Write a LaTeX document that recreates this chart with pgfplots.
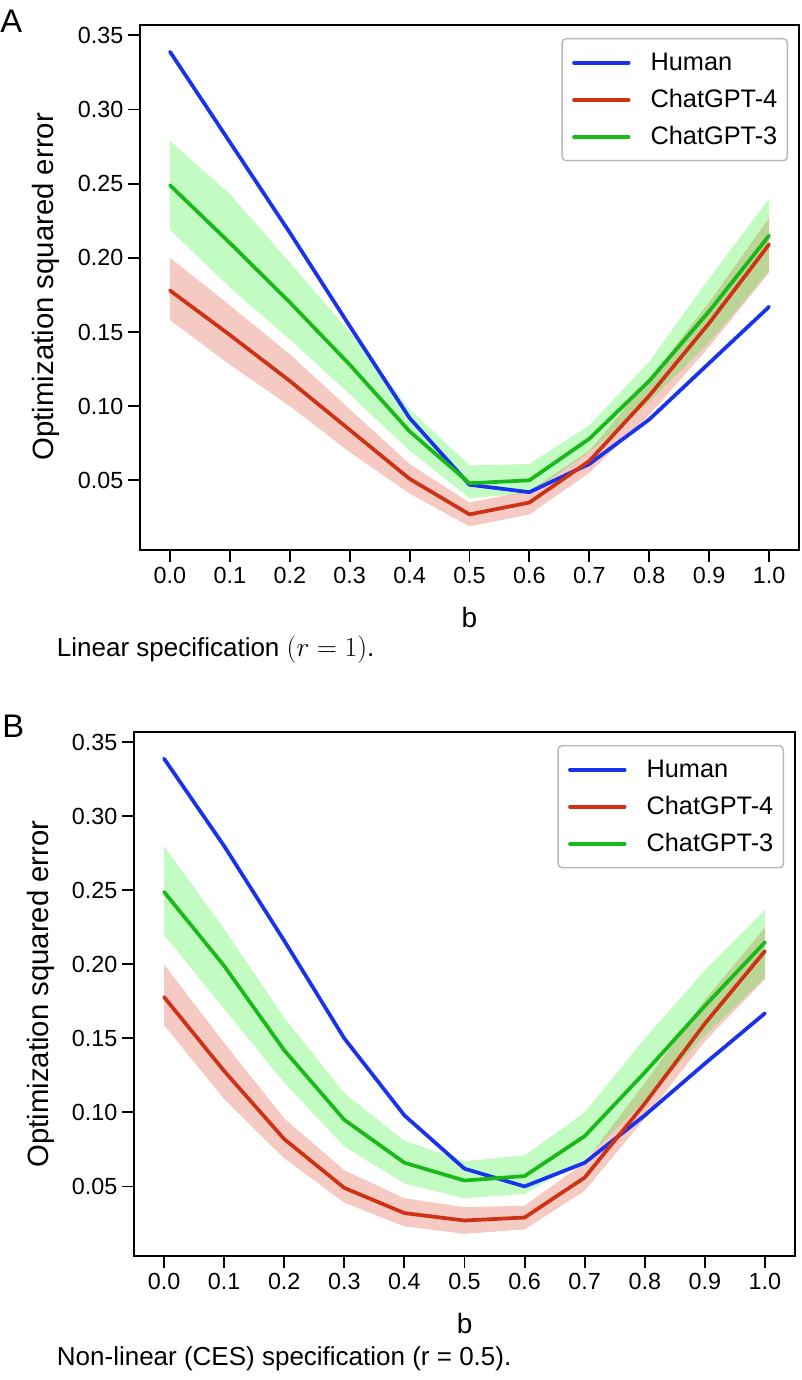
\documentclass[border=0pt]{standalone}
\usepackage{fontspec}
\setmainfont{Liberation Sans}
\usepackage{pgfplots}
\pgfplotsset{compat=1.18}
\usepackage{pgfplotstable}
\usepgfplotslibrary{fillbetween}

\definecolor{hblue}{RGB}{25,50,235}
\definecolor{cred}{RGB}{205,50,20}
\definecolor{cgreen}{RGB}{25,185,25}
\definecolor{bandred}{RGB}{210,45,15}
\definecolor{bandgreen}{RGB}{15,245,15}

\pgfplotstableread{
x    hum    r     rlo    rhi    g     glo    ghi
0.0  0.339  0.178 0.158  0.200  0.249 0.219  0.279
0.1  0.278  0.148 0.128  0.168  0.210 0.180  0.243
0.2  0.217  0.117 0.100  0.135  0.170 0.145  0.197
0.3  0.154  0.084 0.069  0.098  0.128 0.108  0.150
0.4  0.092  0.051 0.041  0.061  0.083 0.070  0.098
0.5  0.047  0.027 0.019  0.035  0.048 0.038  0.060
0.6  0.042  0.035 0.027  0.043  0.050 0.041  0.061
0.7  0.061  0.063 0.055  0.070  0.078 0.069  0.087
0.8  0.091  0.107 0.094  0.118  0.117 0.103  0.130
0.9  0.129  0.156 0.140  0.170  0.164 0.143  0.186
1.0  0.167  0.209 0.190  0.227  0.215 0.191  0.240
}\dataA

\pgfplotstableread{
x    hum    r     rlo    rhi    g     glo    ghi
0.0  0.339  0.178 0.159  0.200  0.249 0.220  0.280
0.1  0.280  0.128 0.109  0.147  0.199 0.170  0.224
0.2  0.216  0.082 0.069  0.096  0.142 0.120  0.164
0.3  0.150  0.049 0.039  0.061  0.095 0.077  0.113
0.4  0.098  0.032 0.023  0.042  0.066 0.052  0.081
0.5  0.062  0.027 0.018  0.036  0.054 0.042  0.067
0.6  0.050  0.029 0.021  0.037  0.057 0.045  0.071
0.7  0.066  0.056 0.047  0.066  0.084 0.068  0.100
0.8  0.098  0.106 0.096  0.120  0.127 0.108  0.150
0.9  0.133  0.160 0.148  0.176  0.172 0.152  0.196
1.0  0.167  0.209 0.190  0.225  0.215 0.191  0.237
}\dataB

\pgfplotsset{
  myaxis/.style={
    scale only axis,
    xmin=-0.05, xmax=1.05, ymin=0.003, ymax=0.357,
    xtick={0,0.1,0.2,0.3,0.4,0.5,0.6,0.7,0.8,0.9,1.0},
    ytick={0.05,0.10,0.15,0.20,0.25,0.30,0.35},
    scaled x ticks=false, scaled y ticks=false,
    /pgf/number format/assume math mode=true,
    xticklabel={\pgfmathprintnumber[fixed,fixed zerofill,precision=1]{\tick}},
    yticklabel={\pgfmathprintnumber[fixed,fixed zerofill,precision=2]{\tick}},
    tick align=outside, tick pos=left,
    major tick length=9pt,
    every tick/.style={black, line width=1.4pt},
    axis line style={line width=1.8pt},
    tick label style={font=\fontsize{17.5}{20}\selectfont},
    legend cell align=left,
    legend image code/.code={\draw[#1] (0pt,0pt) -- (41pt,0pt);},
    legend style={at={(1,1)}, anchor=north east, xshift=-8.25pt, yshift=-9.75pt,
      draw=black!28, rounded corners=3pt, line width=1.1pt,
      font=\fontsize{19}{22}\selectfont,
      nodes={inner sep=0pt, text height=14pt, text depth=2pt},
      row sep=11.75pt,
      inner xsep=7.5pt, inner ysep=10pt,
      /tikz/every odd column/.append style={column sep=15pt}},
  },
  bnd/.style={draw=none, forget plot},
  ln/.style={line width=2.8pt, line join=round, line cap=round},
}

\begin{document}
\begin{tikzpicture}
\path (0pt,0pt) rectangle (601.5pt,-1035pt);

% Panel A
\begin{axis}[myaxis, at={(105pt,-412.5pt)}, anchor=south west,
  width=494.25pt, height=393.75pt]
\addplot[bnd, name path=rhiA] table[x=x, y=rhi] {\dataA};
\addplot[bnd, name path=rloA] table[x=x, y=rlo] {\dataA};
\addplot[bandred, fill opacity=0.25, forget plot] fill between[of=rhiA and rloA];
\addplot[bnd, name path=ghiA] table[x=x, y=ghi] {\dataA};
\addplot[bnd, name path=gloA] table[x=x, y=glo] {\dataA};
\addplot[bandgreen, fill opacity=0.25, forget plot] fill between[of=ghiA and gloA];
\addplot[ln, hblue] table[x=x, y=hum] {\dataA};
\addlegendentry{Human}
\addplot[ln, cred] table[x=x, y=r] {\dataA};
\addlegendentry{ChatGPT-4}
\addplot[ln, cgreen] table[x=x, y=g] {\dataA};
\addlegendentry{ChatGPT-3}
\end{axis}

% Panel B
\begin{axis}[myaxis, at={(100.5pt,-942pt)}, anchor=south west,
  width=495.75pt, height=393pt]
\addplot[bnd, name path=rhiB] table[x=x, y=rhi] {\dataB};
\addplot[bnd, name path=rloB] table[x=x, y=rlo] {\dataB};
\addplot[bandred, fill opacity=0.25, forget plot] fill between[of=rhiB and rloB];
\addplot[bnd, name path=ghiB] table[x=x, y=ghi] {\dataB};
\addplot[bnd, name path=gloB] table[x=x, y=glo] {\dataB};
\addplot[bandgreen, fill opacity=0.25, forget plot] fill between[of=ghiB and gloB];
\addplot[ln, hblue] table[x=x, y=hum] {\dataB};
\addlegendentry{Human}
\addplot[ln, cred] table[x=x, y=r] {\dataB};
\addlegendentry{ChatGPT-4}
\addplot[ln, cgreen] table[x=x, y=g] {\dataB};
\addlegendentry{ChatGPT-3}
\end{axis}

% labels
\node[anchor=base west, inner sep=0pt, font=\fontsize{24.5}{28}\selectfont] at (0pt,-24.75pt) {A};
\node[anchor=base west, inner sep=0pt, font=\fontsize{24.5}{28}\selectfont] at (1.5pt,-552.75pt) {B};
\node[rotate=90, anchor=base, inner sep=0pt, font=\fontsize{22}{26}\selectfont] at (39.75pt,-215pt) {Optimization squared error};
\node[rotate=90, anchor=base, inner sep=0pt, font=\fontsize{22}{26}\selectfont] at (36pt,-745.5pt) {Optimization squared error};
\node[anchor=base, inner sep=0pt, font=\fontsize{21}{24}\selectfont] at (352pt,-470.25pt) {b};
\node[anchor=base, inner sep=0pt, font=\fontsize{21}{24}\selectfont] at (348.4pt,-999.75pt) {b};
\node[anchor=base west, inner sep=0pt, font=\fontsize{19.5}{23}\selectfont] at (42.5pt,-492.5pt) {Linear specification $(r = 1)$.};
\node[anchor=base west, inner sep=0pt, font=\fontsize{19.5}{23}\selectfont] at (42.5pt,-1023.75pt) {Non-linear (CES) specification (r = 0.5).};
\end{tikzpicture}
\end{document}
